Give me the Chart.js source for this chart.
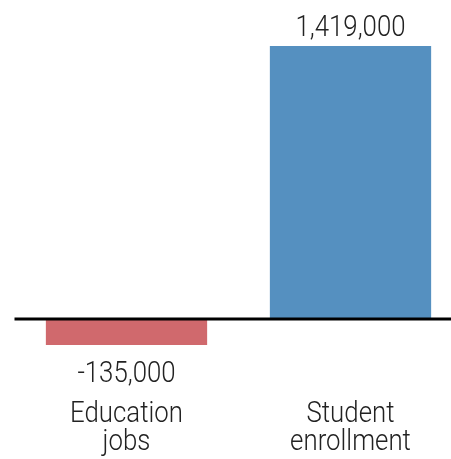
<!DOCTYPE html>
<html><head><meta charset="utf-8">
<script src="https://cdn.jsdelivr.net/npm/chart.js@4/dist/chart.umd.min.js"></script>
<style>
html,body{margin:0;padding:0;overflow:hidden;background:#fff;width:451px;height:459px;}
#wrap{width:451px;height:459px;overflow:hidden;position:relative;}
#c{position:absolute;left:0;top:0;display:block;width:463px;height:459px;}
</style></head><body>
<div id="wrap"><canvas id="c" width="463" height="459"></canvas></div>
<script>
const categories = [["Education","jobs"],["Student","enrollment"]];
const values = [-135000, 1419000];
const valueLabels = ["-135,000","1,419,000"];
const barColors = ["#D0696D","#5590C0"];

const FONT = "300 29px Roboto, 'Liberation Sans', sans-serif";
const SX = 0.89;

function txt(ctx, s, x, y){
  ctx.save(); ctx.translate(x, y); ctx.scale(SX, 1); ctx.fillText(s, 0, 0); ctx.restore();
}

const overlay = {
  id:'overlay',
  afterDatasetsDraw(chart){
    const ctx = chart.ctx, y = chart.scales.y, area = chart.chartArea;
    const y0 = y.getPixelForValue(0);
    ctx.save();
    ctx.strokeStyle = '#000'; ctx.lineWidth = 3;
    ctx.beginPath(); ctx.moveTo(area.left, y0); ctx.lineTo(chart.width, y0); ctx.stroke();
    const meta = chart.getDatasetMeta(0);
    ctx.font = FONT; ctx.fillStyle = '#222';
    ctx.textAlign = 'center'; ctx.textBaseline = 'alphabetic';
    meta.data.forEach((bar, i) => {
      const v = values[i];
      const ty = v >= 0 ? bar.y - 10 : bar.y + 37;
      txt(ctx, valueLabels[i], bar.x, ty);
      categories[i].forEach((line, j) => txt(ctx, line, bar.x, 422 + j * 28));
    });
    ctx.restore();
  }
};

new Chart(document.getElementById('c'), {
  type:'bar',
  data:{labels:categories, datasets:[{data:values, backgroundColor:barColors, borderWidth:0, barPercentage:0.72, categoryPercentage:1}]},
  options:{
    responsive:false, animation:false, devicePixelRatio:1,
    layout:{padding:{top:46,left:14.5,right:0.5,bottom:114}},
    plugins:{legend:{display:false}, tooltip:{enabled:false}},
    scales:{
      x:{display:false},
      y:{display:false, min:-135000, max:1419000}
    }
  },
  plugins:[overlay]
});
</script>
</body></html>
